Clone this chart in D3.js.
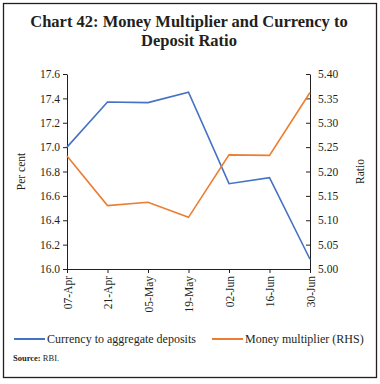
<!DOCTYPE html>
<html>
<head>
<meta charset="utf-8">
<script src="https://cdn.jsdelivr.net/npm/d3@7"></script>
<style>
  body { margin: 0; background: #fff; }
  svg text { font-family: "Liberation Serif", "DejaVu Serif", serif; fill: #231f20; }
</style>
</head>
<body>
<svg class="chart" width="380" height="384"></svg>
<script>
// chart data
const dates = ["07-Apr", "21-Apr", "05-May", "19-May", "02-Jun", "16-Jun", "30-Jun"];
const currencyRatio = [17.00, 17.37, 17.365, 17.45, 16.70, 16.75, 16.08];
const moneyMultiplier = [5.232, 5.130, 5.137, 5.106, 5.234, 5.233, 5.362];
const leftTicks = [16.0, 16.2, 16.4, 16.6, 16.8, 17.0, 17.2, 17.4, 17.6];
const rightTicks = [5.00, 5.05, 5.10, 5.15, 5.20, 5.25, 5.30, 5.35, 5.40];
const seriesNames = ["Currency to aggregate deposits", "Money multiplier (RHS)"];

const blue = "#4472c4";
const orange = "#ed7d31";

const svg = d3.select(".chart");

// outer frame
svg.append("rect")
  .attr("x", 3.5).attr("y", 3.5)
  .attr("width", 373).attr("height", 374)
  .attr("fill", "none")
  .attr("stroke", "#231f20")
  .attr("stroke-width", 1.3);

// title
const title = svg.append("text")
  .attr("text-anchor", "middle")
  .style("font-weight", "bold")
  .style("font-size", "16.5px");
title.append("tspan").attr("x", 189).attr("y", 27).text("Chart 42: Money Multiplier and Currency to");
title.append("tspan").attr("x", 189).attr("y", 46).text("Deposit Ratio");

const plotLeft = 67, plotRight = 310, plotTop = 74, plotBottom = 269;

const x = d3.scalePoint().domain(dates).range([plotLeft, plotRight]);
const yL = d3.scaleLinear().domain([16.0, 17.6]).range([plotBottom, plotTop]);
const yR = d3.scaleLinear().domain([5.00, 5.40]).range([plotBottom, plotTop]);

// left axis
const gL = svg.append("g")
  .attr("transform", "translate(" + plotLeft + ",0)")
  .call(d3.axisLeft(yL).tickValues(leftTicks).tickFormat(d3.format(".1f")).tickSize(4).tickSizeOuter(0));

// right axis (ticks point inward)
const gR = svg.append("g")
  .attr("transform", "translate(" + plotRight + ",0)")
  .call(d3.axisRight(yR).tickValues(rightTicks).tickFormat(d3.format(".2f")).tickSize(0).tickSizeOuter(0));
gR.selectAll(".tick line").attr("x2", -4);
gR.selectAll(".tick text").attr("x", 8);

// bottom axis
const gB = svg.append("g")
  .attr("transform", "translate(0," + plotBottom + ")")
  .call(d3.axisBottom(x).tickSize(4).tickSizeOuter(0));
gB.selectAll(".tick text")
  .attr("transform", "rotate(-90)")
  .attr("x", -7)
  .attr("y", 0)
  .attr("dy", "0.35em")
  .style("text-anchor", "end");

[gL, gR, gB].forEach(g => {
  g.select(".domain").attr("stroke", "#231f20");
  g.selectAll(".tick line").attr("stroke", "#231f20");
  g.selectAll(".tick text").style("font-size", "11.5px").attr("fill", "#231f20")
    .style("font-family", "'Liberation Serif', serif");
});

// axis titles
svg.append("text")
  .attr("transform", "translate(25," + (plotTop + plotBottom) / 2 + ") rotate(-90)")
  .attr("text-anchor", "middle")
  .style("font-size", "11.5px")
  .text("Per cent");
svg.append("text")
  .attr("transform", "translate(364," + (plotTop + plotBottom) / 2 + ") rotate(-90)")
  .attr("text-anchor", "middle")
  .style("font-size", "11.5px")
  .text("Ratio");

// lines
const lineL = d3.line().x((d, i) => x(dates[i])).y(d => yL(d));
const lineR = d3.line().x((d, i) => x(dates[i])).y(d => yR(d));

svg.append("path")
  .datum(currencyRatio)
  .attr("d", lineL)
  .attr("fill", "none")
  .attr("stroke", blue)
  .attr("stroke-width", 1.6);

svg.append("path")
  .datum(moneyMultiplier)
  .attr("d", lineR)
  .attr("fill", "none")
  .attr("stroke", orange)
  .attr("stroke-width", 1.6);

// legend
const legendItems = [
  { name: seriesNames[0], color: blue, x0: 14 },
  { name: seriesNames[1], color: orange, x0: 212 }
];
const leg = svg.append("g").selectAll("g").data(legendItems).enter().append("g");
leg.append("line")
  .attr("x1", d => d.x0).attr("x2", d => d.x0 + 31)
  .attr("y1", 339).attr("y2", 339)
  .attr("stroke", d => d.color)
  .attr("stroke-width", 2);
leg.append("text")
  .attr("x", d => d.x0 + 33)
  .attr("y", 339)
  .attr("dy", "0.35em")
  .style("font-size", "12px")
  .text(d => d.name);

// source
const src = svg.append("text")
  .attr("x", 13)
  .attr("y", 361)
  .style("font-size", "8.5px");
src.append("tspan").style("font-weight", "bold").text("Source: ");
src.append("tspan").text("RBI.");
</script>
</body>
</html>
